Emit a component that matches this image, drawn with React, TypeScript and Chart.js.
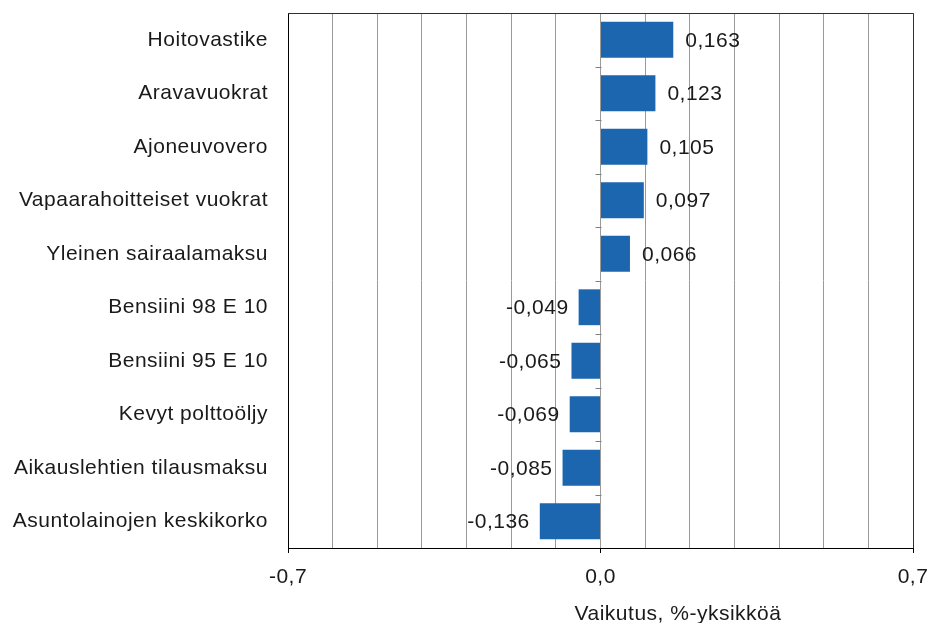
import React, { useEffect, useRef } from 'react';
import { Chart, registerables } from 'chart.js';

Chart.register(...registerables);

// ---- data ----
const categories: string[] = [
  'Hoitovastike',
  'Aravavuokrat',
  'Ajoneuvovero',
  'Vapaarahoitteiset vuokrat',
  'Yleinen sairaalamaksu',
  'Bensiini 98 E 10',
  'Bensiini 95 E 10',
  'Kevyt polttoöljy',
  'Aikauslehtien tilausmaksu',
  'Asuntolainojen keskikorko',
];
const values: number[] = [0.163, 0.123, 0.105, 0.097, 0.066, -0.049, -0.065, -0.069, -0.085, -0.136];
const labeledTicks: number[] = [-0.7, 0, 0.7];
const axisMin = -0.7;
const axisMax = 0.7;
const gridStep = 0.1;
const axisTitle = 'Vaikutus, %-yksikköä';

// ---- style ----
const FONT = '"Liberation Sans", Arial, sans-serif';
const FONT_SIZE = 21;
const TEXT = '#1a1a1a';
const BAR = '#1c66b0';
const GRID = '#9a9a9a';
const SPACING = '0.5px';

const fmt = (v: number, d: number) => {
  const n = Math.abs(v) < 1e-9 ? 0 : v;
  return n.toFixed(d).replace('.', ',');
};
const isLabeled = (v: number) => labeledTicks.some((t) => Math.abs(t - v) < 1e-6);

const spacingPlugin = {
  id: 'spacing',
  beforeLayout(chart: any) {
    chart.ctx.letterSpacing = SPACING;
  },
  beforeDraw(chart: any) {
    chart.ctx.letterSpacing = SPACING;
  },
};

const overlayPlugin = {
  id: 'overlay',
  afterDatasetsDraw(chart: any) {
    const { ctx, chartArea: a, scales } = chart;
    const xs = scales.x;
    const ys = scales.y;
    ctx.save();
    ctx.letterSpacing = SPACING;

    // small category ticks on the zero line
    const x0 = Math.round(xs.getPixelForValue(0)) + 0.5;
    ctx.strokeStyle = '#808080';
    ctx.lineWidth = 1;
    ctx.beginPath();
    for (let i = 1; i < categories.length; i++) {
      const y = Math.round(ys.getPixelForValue(i - 0.5)) + 0.5;
      ctx.moveTo(x0 - 6, y);
      ctx.lineTo(x0, y);
    }
    ctx.stroke();

    // plot box
    const L = Math.round(a.left) + 0.5;
    const R = Math.round(a.right) + 0.5;
    const T = Math.round(a.top) + 0.5;
    const B = Math.round(a.bottom) + 0.5;
    ctx.strokeStyle = '#303030';
    ctx.beginPath();
    ctx.moveTo(L, T);
    ctx.lineTo(R, T);
    ctx.lineTo(R, B);
    ctx.stroke();
    ctx.strokeStyle = '#000';
    ctx.beginPath();
    ctx.moveTo(L, T);
    ctx.lineTo(L, B);
    ctx.lineTo(R, B);
    ctx.stroke();

    // value labels
    const meta = chart.getDatasetMeta(0);
    ctx.font = `${FONT_SIZE}px ${FONT}`;
    ctx.fillStyle = TEXT;
    ctx.textBaseline = 'middle';
    meta.data.forEach((el: any, i: number) => {
      const v = values[i];
      const p = el.getProps(['x', 'y'], true);
      if (v >= 0) {
        ctx.textAlign = 'left';
        ctx.fillText(fmt(v, 3), p.x + 12, p.y + 1);
      } else {
        ctx.textAlign = 'right';
        ctx.fillText(fmt(v, 3), p.x - 10, p.y + 1);
      }
    });

    // axis title
    ctx.textAlign = 'center';
    ctx.textBaseline = 'alphabetic';
    ctx.fillText(axisTitle, a.left + (a.right - a.left) * 0.624, chart.height - 3);
    ctx.restore();
  },
};

export default function App() {
  const ref = useRef<HTMLCanvasElement | null>(null);

  useEffect(() => {
    if (!ref.current) return;
    const chart = new Chart(ref.current, {
      type: 'bar',
      data: {
        labels: categories,
        datasets: [
          {
            data: values,
            backgroundColor: BAR,
            borderWidth: 0,
            barPercentage: 0.67,
            categoryPercentage: 1,
          },
        ],
      },
      options: {
        indexAxis: 'y',
        responsive: false,
        animation: false,
        devicePixelRatio: 1,
        layout: { padding: { top: 13, right: 18, left: 0, bottom: 0 } },
        plugins: {
          legend: { display: false },
          tooltip: { enabled: false },
          title: { display: false },
        },
        scales: {
          x: {
            type: 'linear',
            min: axisMin,
            max: axisMax,
            ticks: {
              stepSize: gridStep,
              autoSkip: false,
              maxRotation: 0,
              padding: 12,
              color: TEXT,
              font: { family: FONT, size: FONT_SIZE },
              callback: (v: any) => (isLabeled(Number(v)) ? fmt(Number(v), 1) : ''),
            },
            grid: {
              color: GRID,
              lineWidth: 1,
              tickLength: 5,
              tickColor: (c: any) => (c.tick && isLabeled(c.tick.value) ? '#000' : 'rgba(0,0,0,0)'),
            },
            border: { display: false },
            afterFit: (s: any) => {
              s.height = 75;
              s.paddingLeft = 0;
              s.paddingRight = 0;
            },
          },
          y: {
            type: 'category',
            ticks: {
              padding: 20,
              color: TEXT,
              font: { family: FONT, size: FONT_SIZE },
              autoSkip: false,
            },
            grid: { display: false, drawTicks: false },
            border: { display: false },
            afterFit: (s: any) => {
              s.width = 288;
              s.paddingTop = 0;
              s.paddingBottom = 0;
            },
          },
        },
      } as any,
      plugins: [spacingPlugin, overlayPlugin],
    });
    return () => chart.destroy();
  }, []);

  return (
    <div style={{ position: 'fixed', left: 0, top: 0, width: 931, height: 623, background: '#fff' }}>
      <canvas ref={ref} width={931} height={623} style={{ display: 'block' }} />
    </div>
  );
}
